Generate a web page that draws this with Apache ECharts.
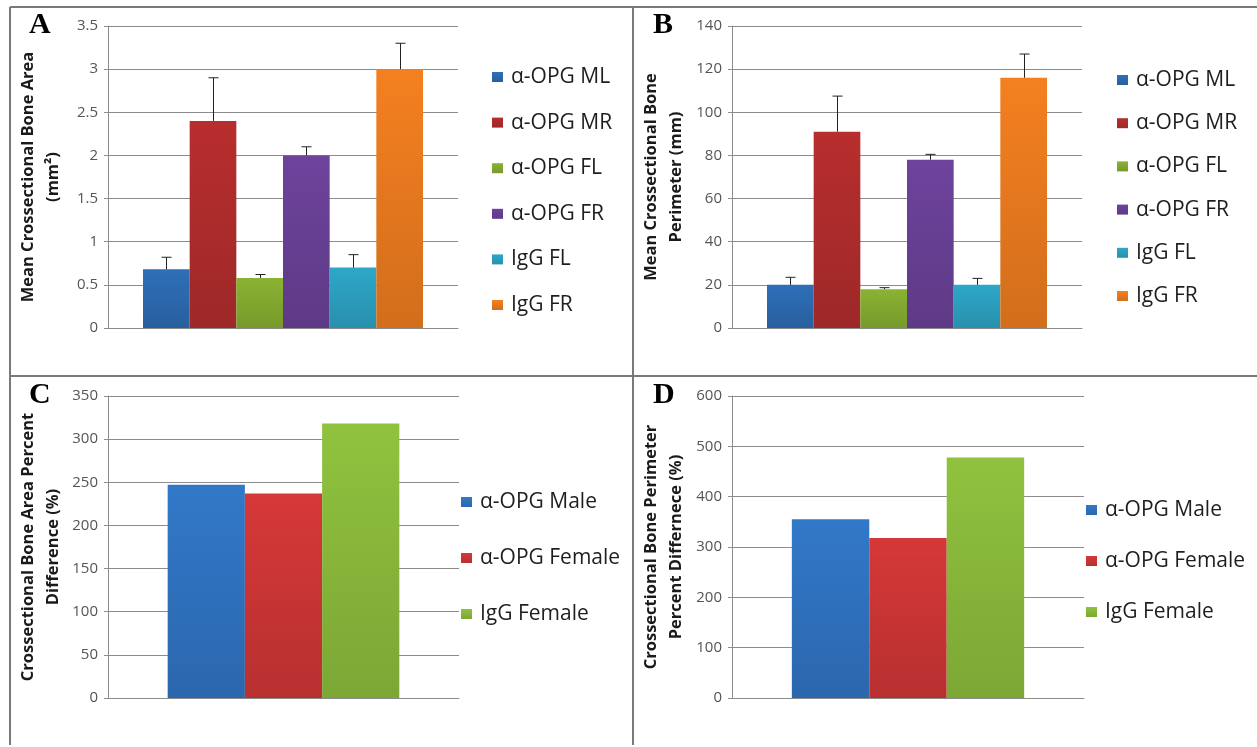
<!DOCTYPE html>
<html>
<head>
<meta charset="utf-8">
<script src="https://cdn.jsdelivr.net/npm/echarts@6/dist/echarts.min.js"></script>
<style>
  html, body { margin: 0; padding: 0; background: #fff; }
  #chart { width: 1257px; height: 747px; }
</style>
</head>
<body>
<div id="chart"></div>
<script>
// panel A / B : six groups
var groupsAB = ["α-OPG ML", "α-OPG MR", "α-OPG FL", "α-OPG FR", "IgG FL", "IgG FR"];
var areaMean = [0.68, 2.4, 0.58, 2.0, 0.7, 3.0];
var areaErr = [0.14, 0.5, 0.04, 0.1, 0.15, 0.3];
var perimMean = [20, 91, 18, 78, 20, 116];
var perimErr = [3.5, 16.5, 0.7, 2.5, 3, 11];
// panel C / D : three groups
var groupsCD = ["α-OPG Male", "α-OPG Female", "IgG Female"];
var areaDiff = [247, 237, 318];
var perimDiff = [355, 318, 478];

var colorsAB = ["#2e6fb8", "#b82e2e", "#8ab332", "#6d439c", "#2ea7c9", "#f48020"];
var colorsCD = ["#3278c9", "#d63838", "#90c23e"];

var font = '"Open Sans", "DejaVu Sans", sans-serif';
var grid = "#8c8c8c";

// slightly darker toward the base, like the original bars
function shade(c) {
  return new echarts.graphic.LinearGradient(0, 0, 0, 1, [
    { offset: 0, color: c },
    { offset: 1, color: echarts.color.lerp(0.14, [c, "#000000"]) }
  ]);
}

function xAx(i) {
  return {
    type: "category", gridIndex: i, data: [""],
    axisLabel: { show: false }, axisTick: { show: false },
    axisLine: { lineStyle: { color: grid } }
  };
}
function yAx(i, max, step, name, gap) {
  return {
    type: "value", gridIndex: i, min: 0, max: max, interval: step,
    name: name, nameLocation: "middle", nameGap: gap, nameRotate: 90,
    nameTextStyle: { fontFamily: font, fontWeight: "bold", fontSize: 16.5, color: "#1a1a1a", lineHeight: 25 },
    axisLine: { show: true, lineStyle: { color: grid } },
    axisTick: { show: true, length: 4, lineStyle: { color: grid } },
    axisLabel: { fontFamily: font, fontSize: 15, color: "#555", margin: 10 },
    splitLine: { lineStyle: { color: grid } }
  };
}

function errRender(n, gap) {
  return function (params, api) {
    var base = api.coord([api.value(0), api.value(1)]);
    var top = api.coord([api.value(0), api.value(1) + api.value(2)]);
    var band = api.size([1, 0])[0];
    var bw = band * (1 - gap) / n;
    var cx = Math.round(base[0] + (api.value(3) - (n - 1) / 2) * bw) + 0.5;
    var st = { stroke: "#222", lineWidth: 1 };
    return {
      type: "group",
      children: [
        { type: "line", shape: { x1: cx, y1: base[1], x2: cx, y2: top[1] }, style: st },
        { type: "line", shape: { x1: cx - 5, y1: top[1], x2: cx + 5, y2: top[1] }, style: st }
      ]
    };
  };
}

var series = [];
function addBars(gi, names, vals, colors, gap) {
  names.forEach(function (nm, k) {
    series.push({
      name: nm, type: "bar", xAxisIndex: gi, yAxisIndex: gi,
      data: [vals[k]], barGap: "0%", barCategoryGap: gap * 100 + "%",
      itemStyle: { color: shade(colors[k]) }
    });
  });
}
function addErr(gi, vals, errs, gap) {
  series.push({
    type: "custom", xAxisIndex: gi, yAxisIndex: gi, z: 5,
    renderItem: errRender(vals.length, gap),
    data: vals.map(function (v, k) { return [0, v, errs[k], k]; })
  });
}
addBars(0, groupsAB, areaMean, colorsAB, 0.2);
addErr(0, areaMean, areaErr, 0.2);
addBars(1, groupsAB, perimMean, colorsAB, 0.2);
addErr(1, perimMean, perimErr, 0.2);
addBars(2, groupsCD, areaDiff, colorsCD, 0.34);
addBars(3, groupsCD, perimDiff, colorsCD, 0.34);

function leg(names, left, top, gap) {
  return {
    show: true, orient: "vertical", left: left, top: top, itemGap: gap,
    itemWidth: 11, itemHeight: 10, icon: "rect",
    data: names,
    selectedMode: false,
    textStyle: { fontFamily: font, fontSize: 21, color: "#1e1e1e", lineHeight: 22, padding: [0, 0, 0, 3] }
  };
}

function letter(t, x, y) {
  return {
    type: "text", left: x, top: y,
    style: { text: t, fontFamily: '"Liberation Serif", "Times New Roman", serif', fontWeight: "bold", fontSize: 30, fill: "#000" }
  };
}
function line(x1, y1, x2, y2) {
  return { type: "line", shape: { x1: x1, y1: y1, x2: x2, y2: y2 }, style: { stroke: "#7a7a7a", lineWidth: 2 } };
}

var chart = echarts.init(document.getElementById("chart"));
chart.setOption({
  animation: false,
  backgroundColor: "#fff",
  grid: [
    { left: 108, top: 26, width: 350, height: 302 },
    { left: 732, top: 26, width: 350, height: 302 },
    { left: 108, top: 396, width: 351, height: 302 },
    { left: 732, top: 396, width: 352, height: 302 }
  ],
  xAxis: [xAx(0), xAx(1), xAx(2), xAx(3)],
  yAxis: [
    yAx(0, 3.5, 0.5, "Mean Crossectional Bone Area\n(mm²)", 42),
    yAx(1, 140, 20, "Mean Crossectional Bone\nPerimeter (mm)", 43),
    yAx(2, 350, 50, "Crossectional Bone Area Percent\nDifference (%)", 42),
    yAx(3, 600, 100, "Crossectional Bone Perimeter\nPercent Differnece (%)", 43)
  ],
  legend: [
    leg(groupsAB, 487, 61, 23.6),
    leg(groupsAB, 1112, 64, 21.2),
    leg(groupsCD, 456, 486, 34),
    leg(groupsCD, 1081, 494, 29)
  ],
  series: series,
  graphic: [
    line(10, 7, 1257, 7),
    line(10, 7, 10, 745),
    line(633, 7, 633, 745),
    line(10, 376, 1257, 376),
    letter("A", 29, 10),
    letter("B", 653, 10),
    letter("C", 29, 380),
    letter("D", 653, 380)
  ]
});
</script>
</body>
</html>
